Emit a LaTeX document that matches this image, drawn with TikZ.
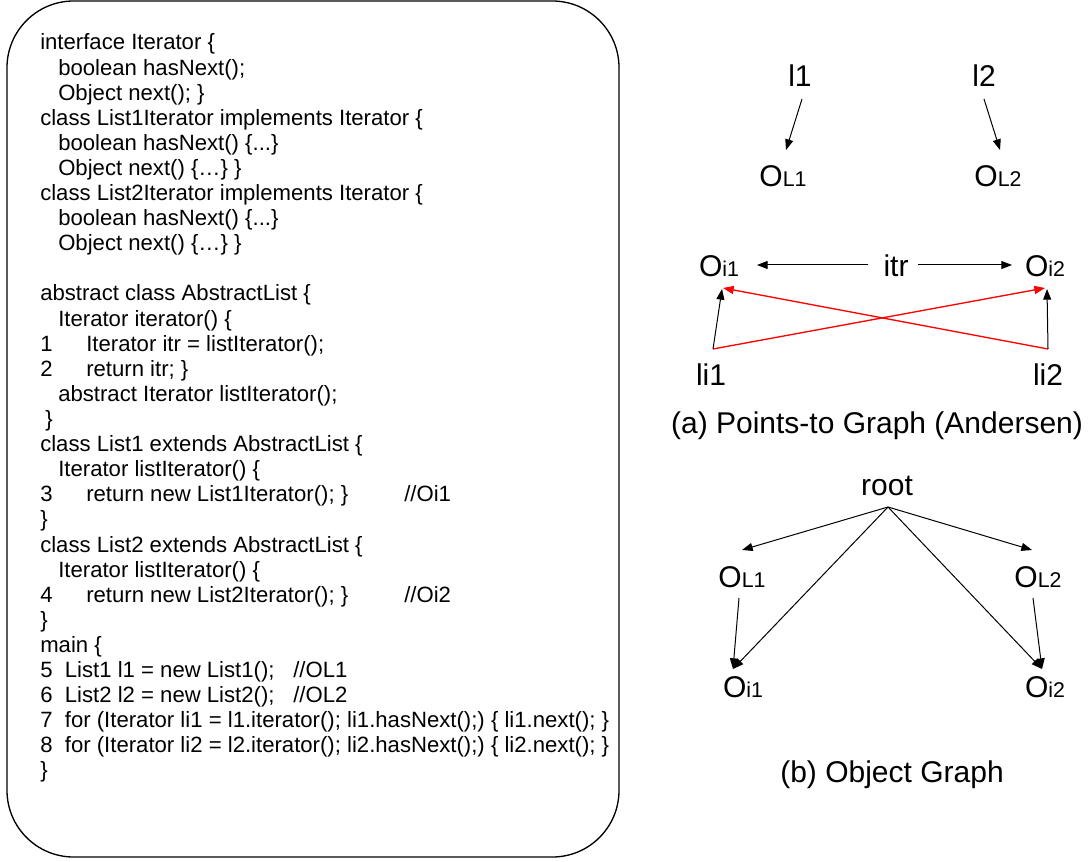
\documentclass[tikz,border=0pt]{standalone}
\usepackage{fontspec}
\setmainfont{Liberation Sans}
\usetikzlibrary{arrows.meta}
\newcommand\subtxt[1]{{\fontsize{16}{19}\selectfont #1}}
\begin{document}
\begin{tikzpicture}[x=0.75pt,y=-0.75pt,
 code/.style={anchor=base west,inner sep=0pt,font=\fontsize{16.6}{19}\selectfont},
 lbl/.style={anchor=base,inner sep=0pt,font=\fontsize{22.5}{27}\selectfont},
 arr/.style={-{Triangle[length=8pt,width=6pt]},line width=0.75pt},
 redarr/.style={arr,red,line width=1pt},
 codebox/.style={draw,line width=1pt,rounded corners=50pt,inner sep=0pt,minimum width=459pt,minimum height=642pt}]
\useasboundingbox (0,0) rectangle (1091,862);
\node[codebox] (box) at (313,429) {};
% code lines, baseline y = 50 + 25.1 i
\node[code] (c0) at (40,50) {interface Iterator \{};
\node[code] (c1) at (58,75.1) {boolean hasNext();};
\node[code] (c2) at (58,100.2) {Object next(); \}};
\node[code] (c3) at (40,125.3) {class List1Iterator implements Iterator \{};
\node[code] (c4) at (58,150.4) {boolean hasNext() \{...\}};
\node[code] (c5) at (58,175.5) {Object next() \{…\} \}};
\node[code] (c6) at (40,200.6) {class List2Iterator implements Iterator \{};
\node[code] (c7) at (58,225.7) {boolean hasNext() \{...\}};
\node[code] (c8) at (58,250.8) {Object next() \{…\} \}};
\node[code] (c10) at (40,301) {abstract class AbstractList \{};
\node[code] (c11) at (58,326.1) {Iterator iterator() \{};
\node[code] (n1) at (40,351.2) {1};
\node[code] (c12) at (86,351.2) {Iterator itr = listIterator();};
\node[code] (n2) at (40,376.3) {2};
\node[code] (c13) at (86,376.3) {return itr; \}};
\node[code] (c14) at (58,401.4) {abstract Iterator listIterator();};
\node[code] (c15) at (45,426.5) {\}};
\node[code] (c16) at (40,451.6) {class List1 extends AbstractList \{};
\node[code] (c17) at (58,476.7) {Iterator listIterator() \{};
\node[code] (n3) at (40,501.8) {3};
\node[code] (c18) at (86,501.8) {return new List1Iterator(); \}};
\node[code] (k18) at (404,501.8) {//Oi1};
\node[code] (c19) at (40,526.9) {\}};
\node[code] (c20) at (40,552) {class List2 extends AbstractList \{};
\node[code] (c21) at (58,577.1) {Iterator listIterator() \{};
\node[code] (n4) at (40,602.2) {4};
\node[code] (c22) at (86,602.2) {return new List2Iterator(); \}};
\node[code] (k22) at (404,602.2) {//Oi2};
\node[code] (c23) at (40,627.3) {\}};
\node[code] (c24) at (40,652.4) {main \{};
\node[code] (c25) at (40,677.5) {5\ \ List1 l1 = new List1();};
\node[code] (k25) at (293,677.5) {//OL1};
\node[code] (c26) at (40,702.6) {6\ \ List2 l2 = new List2();};
\node[code] (k26) at (293,702.6) {//OL2};
\node[code] (c27) at (40,727.7) {7\ \ for (Iterator li1 = l1.iterator(); li1.hasNext();) \{ li1.next(); \}};
\node[code] (c28) at (40,752.8) {8\ \ for (Iterator li2 = l2.iterator(); li2.hasNext();) \{ li2.next(); \}};
\node[code] (c29) at (40,777.9) {\}};
% (a) points-to graph
\node[lbl] (l1) at (800,87) {l1};
\node[lbl] (l2) at (984,87) {l2};
\node[lbl] (OLa1) at (783,187) {O\subtxt{L1}};
\node[lbl] (OLa2) at (998,187) {O\subtxt{L2}};
\node[lbl] (Oia1) at (719,277) {O\subtxt{i1}};
\node[lbl] (itr) at (896,277) {itr};
\node[lbl] (Oia2) at (1045,277) {O\subtxt{i2}};
\node[lbl] (li1) at (711,386) {li1};
\node[lbl] (li2) at (1048,386) {li2};
\node[lbl] (capa) at (877,433) {(a) Points-to Graph (Andersen)};
\draw[arr] ([shift={(2,12)}]l1.base) -- ([shift={(3,-37)}]OLa1.base);
\draw[arr] ([shift={(0,12)}]l2.base) -- ([shift={(2,-37)}]OLa2.base);
\draw[arr] ([shift={(-28,-12)}]itr.base) -- ([shift={(38,-12)}]Oia1.base);
\draw[arr] ([shift={(22,-12)}]itr.base) -- ([shift={(-33,-12)}]Oia2.base);
\draw[redarr] ([shift={(2,-37)}]li1.base) -- ([shift={(0,11)}]Oia2.base);
\draw[redarr] ([shift={(0,-37)}]li2.base) -- ([shift={(4,11)}]Oia1.base);
\draw[arr] ([shift={(2,-37)}]li1.base) -- ([shift={(3,12)}]Oia1.base);
\draw[arr] ([shift={(0,-37)}]li2.base) -- ([shift={(2,12)}]Oia2.base);
% (b) object graph
\node[lbl] (root) at (887,495) {root};
\node[lbl] (OLb1) at (742,587) {O\subtxt{L1}};
\node[lbl] (OLb2) at (1038,587) {O\subtxt{L2}};
\node[lbl] (Oib1) at (743,697) {O\subtxt{i1}};
\node[lbl] (Oib2) at (1045,697) {O\subtxt{i2}};
\node[lbl] (capb) at (892,782) {(b) Object Graph};
\draw[arr] ([shift={(1,12)}]root.base) -- ([shift={(0,-37)}]OLb1.base);
\draw[arr] ([shift={(1,12)}]root.base) -- ([shift={(-6,-37)}]OLb2.base);
\draw[arr] ([shift={(1,12)}]root.base) -- ([shift={(-10,-28)}]Oib1.base);
\draw[arr] ([shift={(1,12)}]root.base) -- ([shift={(-3,-28)}]Oib2.base);
\draw[arr] ([shift={(-3,11)}]OLb1.base) -- ([shift={(-10,-28)}]Oib1.base);
\draw[arr] ([shift={(-5,11)}]OLb2.base) -- ([shift={(-3,-28)}]Oib2.base);
\end{tikzpicture}
\end{document}
